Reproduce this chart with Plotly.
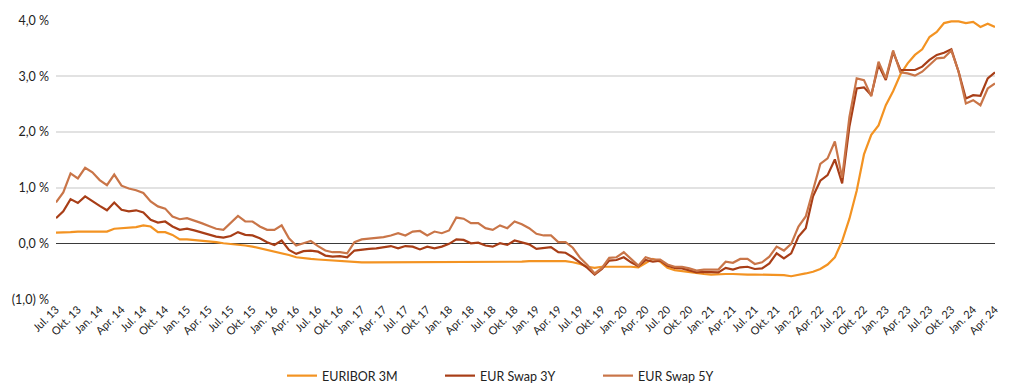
import plotly.graph_objects as go

# ---- categories (monthly, Jul. 2013 .. Apr. 2024) ----
month_names = ["Jan.", "Feb.", "Mär.", "Apr.", "Mai", "Jun.",
               "Jul.", "Aug.", "Sep.", "Okt.", "Nov.", "Dez."]
start_month_index = 6   # Jul.
start_year = 13
n_months = 130
months = [f"{month_names[(start_month_index + k) % 12]} {start_year + (start_month_index + k) // 12}"
          for k in range(n_months)]
tick_labels = months[::3]

# ---- series values (%) ----
euribor_3m = [
    0.20, 0.20, 0.21, 0.22, 0.22, 0.22,
    0.22, 0.22, 0.27, 0.28, 0.28, 0.30, 0.33, 0.31, 0.21, 0.21, 0.16, 0.08,
    0.08, 0.07, 0.06, 0.05, 0.03, 0.01, 0.00, -0.02, -0.03, -0.05, -0.08, -0.11,
    -0.14, -0.16, -0.20, -0.24, -0.26, -0.27, -0.28, -0.29, -0.30, -0.31, -0.32, -0.32,
    -0.33, -0.33, -0.33, -0.33, -0.33, -0.33, -0.33, -0.33, -0.33, -0.33, -0.33, -0.33,
    -0.33, -0.33, -0.33, -0.33, -0.33, -0.33, -0.33, -0.32, -0.32, -0.32, -0.32, -0.31,
    -0.31, -0.31, -0.31, -0.31, -0.31, -0.33, -0.36, -0.41, -0.43, -0.41, -0.41, -0.40,
    -0.40, -0.41, -0.42, -0.35, -0.27, -0.32, -0.43, -0.47, -0.49, -0.51, -0.53, -0.54,
    -0.55, -0.54, -0.54, -0.54, -0.55, -0.55, -0.55, -0.55, -0.55, -0.55, -0.56, -0.58,
    -0.56, -0.53, -0.50, -0.45, -0.37, -0.24, 0.05, 0.45, 0.95, 1.60, 1.95, 2.12,
    2.48, 2.73, 3.03, 3.23, 3.38, 3.48, 3.70, 3.79, 3.95, 3.98, 3.98, 3.95,
    3.97, 3.88, 3.94, 3.88,
]

eur_swap_3y = [
    0.46, 0.58, 0.80, 0.73, 0.85, 0.76,
    0.68, 0.60, 0.74, 0.61, 0.58, 0.60, 0.56, 0.43, 0.38, 0.40, 0.31, 0.25,
    0.27, 0.24, 0.20, 0.16, 0.13, 0.11, 0.14, 0.21, 0.16, 0.15, 0.10, 0.03,
    -0.02, 0.06, -0.11, -0.18, -0.13, -0.12, -0.14, -0.21, -0.23, -0.22, -0.24, -0.12,
    -0.10, -0.09, -0.08, -0.06, -0.04, -0.08, -0.04, -0.05, -0.10, -0.05, -0.08, -0.05,
    0.00, 0.08, 0.07, 0.01, 0.02, -0.03, -0.05, 0.01, -0.02, 0.06, 0.02, -0.01,
    -0.09, -0.07, -0.06, -0.15, -0.16, -0.24, -0.34, -0.43, -0.55, -0.45, -0.30, -0.29,
    -0.24, -0.33, -0.40, -0.29, -0.32, -0.30, -0.39, -0.43, -0.44, -0.47, -0.51, -0.50,
    -0.50, -0.51, -0.43, -0.46, -0.42, -0.41, -0.45, -0.44, -0.35, -0.17, -0.26, -0.17,
    0.13, 0.28, 0.85, 1.13, 1.23, 1.51, 1.08, 2.10, 2.78, 2.80, 2.66, 3.20,
    2.93, 3.43, 3.11, 3.11, 3.11, 3.17, 3.29, 3.38, 3.42, 3.48, 3.08, 2.60,
    2.66, 2.65, 2.96, 3.07,
]

eur_swap_5y = [
    0.74, 0.92, 1.26, 1.17, 1.36, 1.28,
    1.14, 1.05, 1.24, 1.04, 0.99, 0.96, 0.91, 0.76, 0.67, 0.63, 0.49, 0.44,
    0.46, 0.42, 0.37, 0.32, 0.27, 0.25, 0.37, 0.50, 0.40, 0.40, 0.31, 0.25,
    0.25, 0.33, 0.10, -0.03, 0.01, 0.05, -0.04, -0.12, -0.15, -0.15, -0.17, 0.03,
    0.08, 0.09, 0.11, 0.12, 0.15, 0.19, 0.15, 0.22, 0.23, 0.15, 0.22, 0.19,
    0.24, 0.47, 0.45, 0.37, 0.37, 0.28, 0.25, 0.33, 0.28, 0.40, 0.35, 0.28,
    0.18, 0.15, 0.15, 0.03, 0.03, -0.07, -0.25, -0.38, -0.53, -0.43, -0.25, -0.24,
    -0.15, -0.27, -0.39, -0.24, -0.28, -0.28, -0.37, -0.41, -0.41, -0.44, -0.48, -0.46,
    -0.46, -0.46, -0.32, -0.34, -0.27, -0.27, -0.36, -0.33, -0.23, -0.05, -0.12, 0.00,
    0.31, 0.49, 0.96, 1.43, 1.53, 1.83, 1.18, 2.27, 2.96, 2.93, 2.64, 3.26,
    2.96, 3.46, 3.07, 3.05, 3.01, 3.08, 3.20, 3.32, 3.33, 3.46, 3.08, 2.51,
    2.57, 2.48, 2.78, 2.87,
]

series_names = ["EURIBOR 3M", "EUR Swap 3Y", "EUR Swap 5Y"]
series_colors = ["#F39322", "#A83E17", "#C97548"]

y_tick_vals = [-1, 0, 1, 2, 3, 4]
y_tick_text = ["(1,0) %", "0,0 %", "1,0 %", "2,0 %", "3,0 %", "4,0 %"]

fig = go.Figure()
for name, vals, color in zip(series_names, [euribor_3m, eur_swap_3y, eur_swap_5y], series_colors):
    fig.add_trace(go.Scatter(x=months, y=vals, mode="lines", name=name,
                             line=dict(color=color, width=2.2)))

# the page body adds an 8 px offset, so margins are set relative to that
fig.update_layout(
    width=1028, height=385,
    margin=dict(l=48, r=41, t=12, b=93, autoexpand=False),
    paper_bgcolor="white", plot_bgcolor="white",
    font=dict(family="Lato, Roboto, sans-serif", size=12, color="#222222"),
    showlegend=True,
    legend=dict(orientation="h", xref="container", x=274 / 1028, xanchor="left",
                yref="container", y=1 - 368 / 385, yanchor="middle",
                entrywidth=113, entrywidthmode="pixels",
                font=dict(size=12.5, color="#222222")),
    xaxis=dict(type="category", range=[0, n_months - 1], tickmode="array",
               tickvals=tick_labels, ticktext=tick_labels, tickangle=-45,
               tickfont=dict(size=11, color="#222222"), automargin=False,
               showgrid=False, showline=False, ticks="", zeroline=False),
    yaxis=dict(range=[-1.005, 4.005], tickmode="array", tickvals=y_tick_vals,
               ticktext=y_tick_text, showgrid=True, gridcolor="#e2e2e2", gridwidth=1.5,
               zeroline=True, zerolinecolor="#3a3a3a", zerolinewidth=1.2,
               ticks="", ticklabelstandoff=6, automargin=False,
               tickfont=dict(size=12.5, color="#222222")),
)

fig.write_html("out.html")
